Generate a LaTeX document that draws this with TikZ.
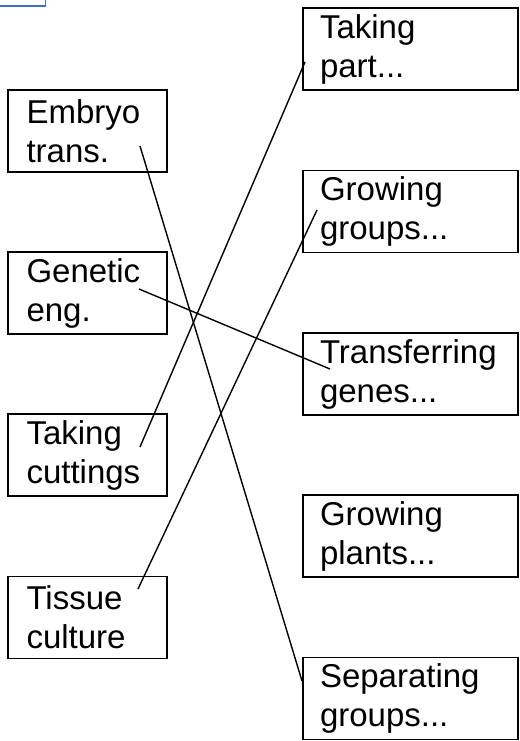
\documentclass[tikz,border=0pt]{standalone}
\usepackage{fontspec}
\setmainfont{Liberation Sans}
\definecolor{tagblue}{HTML}{3A70C8}
\tikzset{
  boxbase/.style={draw=black, line width=1.9pt, rectangle, align=left,
    font=\fontsize{33}{39}\selectfont, inner ysep=0pt},
  lbox/.style={boxbase, minimum width=159pt, minimum height=82pt,
    inner xsep=18.5pt, text width=122pt},
  rbox/.style={boxbase, minimum width=215pt, minimum height=82pt,
    inner xsep=17pt, text width=181pt},
  link/.style={draw=black, line width=1.4pt},
  tagbox/.style={draw=tagblue, line width=1.8pt, rectangle, minimum width=60pt, minimum height=20pt, inner sep=0pt}
}
\begin{document}
\begin{tikzpicture}[x=1pt,y=-1pt]
\clip (0,0) rectangle (519,741);
\fill[white] (0,0) rectangle (519,741);
\node[tagbox] (tag) at (15.5,-4) {};
% left column
\node[lbox] (embryo) at (87.5,131) {Embryo\\trans.};
\node[lbox] (genetic) at (87.5,293) {Genetic\\eng.};
\node[lbox] (cuttings) at (87.5,455) {Taking\\cuttings};
\node[lbox] (tissue) at (87.5,617.5) {Tissue\\culture};
% right column
\node[rbox] (part) at (410.5,49) {Taking\\part...};
\node[rbox] (ggroups) at (410.5,211.5) {Growing\\groups...};
\node[rbox] (genes) at (410.5,374) {Transferring\\genes...};
\node[rbox] (plants) at (410.5,536) {Growing\\plants...};
\node[rbox] (sgroups) at (410.5,698.5) {Separating\\groups...};
% connector ends
\coordinate (e1) at (140,146);
\coordinate (s1) at (302,681);
\coordinate (g1) at (139,289);
\coordinate (t1) at (330,369);
\coordinate (c1) at (140,447);
\coordinate (p1) at (305,62);
\coordinate (u1) at (138,589);
\coordinate (q1) at (317,210);
\draw[link] (e1) -- (s1);
\draw[link] (g1) -- (t1);
\draw[link] (c1) -- (p1);
\draw[link] (u1) -- (q1);
\end{tikzpicture}
\end{document}
